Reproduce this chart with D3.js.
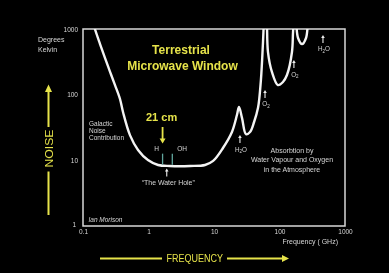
<!DOCTYPE html>
<html>
<head>
<meta charset="utf-8">
<script src="https://cdn.jsdelivr.net/npm/d3@7"></script>
<style>
  html, body { margin: 0; padding: 0; background: #000; overflow: hidden; }
  text { font-family: "Liberation Sans", Arial, sans-serif; }
</style>
</head>
<body>
<svg id="chart" width="389" height="273"></svg>
<script>
// Axis ticks
const freqTicks = [0.1, 1, 10, 100, 1000];        // GHz
const tempTicks = [1, 10, 100, 1000];             // K

// Sky noise temperature seen from the ground (galactic + atmospheric)
const noiseFreq = [0.132, 0.152, 0.182, 0.217, 0.258, 0.308, 0.367, 0.409, 0.523, 0.692,
                   0.98, 1.40, 2.13, 4.3, 7.3, 9.7, 13.7, 18.8, 22.4, 24.1,
                   26.8, 30.8, 35.5, 40.8, 47, 52, 56, 58, 61, 64,
                   66.7, 76.8, 94.8, 113, 130, 155, 161, 166, 172, 179,
                   192, 221, 254, 272, 282];
const noiseTemp = [1630, 1000, 590, 361, 225, 140, 86, 54, 24, 14.4,
                   10.1, 8.5, 8.2, 8.2, 8.5, 9.8, 15.4, 27, 49, 65,
                   44, 25, 27, 38, 63, 167, 634, 1370, 2320, 1370,
                   446, 221, 140, 156, 199, 446, 900, 1370, 1945, 1370,
                   729, 590, 729, 1370, 2320];

// Spectral lines in the water hole
const lineFreq = [1.64, 2.31];
const lineLabel = ["H", "OH"];
const waterHoleFreq = 1.9;
const floorTemp = 8.3;

// Atmospheric absorption lines marked with arrows
const absFreq = [24.9, 60.1, 166, 461];
const absTemp = [24.3, 118, 337, 811];
const absBase = ["H", "O", "O", "H"];
const absSub  = ["2", "2", "2", "2"];
const absTail = ["O", "", "", "O"];

const yellow = "#e6e34a";
const grey = "#d6d6d6";

const root = d3.select("#chart");
root.append("rect").attr("width", 389).attr("height", 273).attr("fill", "#000");

// Everything is drawn through a pass-through filter so text gets plain greyscale smoothing
const defs = root.append("defs");
defs.append("filter").attr("id", "flat")
  .attr("filterUnits", "userSpaceOnUse")
  .attr("x", 0).attr("y", 0).attr("width", 389).attr("height", 273)
  .append("feOffset").attr("dx", 0).attr("dy", 0);
const svg = root.append("g").attr("filter", "url(#flat)");

const x = d3.scaleLog().domain([0.1, 1000]).range([83, 345]);
const y = d3.scaleLog().domain([1, 1000]).range([226, 29]);

// Axes: labels only, frame drawn separately
const xAxis = svg.append("g")
  .attr("transform", `translate(0,${y(1)})`)
  .call(d3.axisBottom(x).tickValues(freqTicks).tickSize(0).tickPadding(3)
        .tickFormat(d => String(d)));
const yAxis = svg.append("g")
  .attr("transform", `translate(${x(0.1)},0)`)
  .call(d3.axisLeft(y).tickValues(tempTicks).tickSize(0).tickPadding(5)
        .tickFormat(d => String(d)));
[xAxis, yAxis].forEach(g => {
  g.select(".domain").remove();
  g.selectAll("text").attr("fill", grey).attr("font-size", 6.5)
    .attr("font-family", "Liberation Sans, Arial, sans-serif");
});
yAxis.selectAll(".tick").filter(d => d === 1).select("text").attr("dx", -2).attr("dy", "0.1em");

// Plot frame
svg.append("rect")
  .attr("x", x(0.1)).attr("y", y(1000))
  .attr("width", x(1000) - x(0.1)).attr("height", y(1) - y(1000))
  .attr("fill", "none").attr("stroke", "#d8d8d8").attr("stroke-width", 1.5);

defs.append("clipPath").attr("id", "plotClip")
  .append("rect")
  .attr("x", x(0.1)).attr("y", y(1000))
  .attr("width", x(1000) - x(0.1)).attr("height", y(1) - y(1000));

// Noise curve
const noise = noiseFreq.map((f, i) => ({ f, t: noiseTemp[i] }));
svg.append("path")
  .datum(noise)
  .attr("clip-path", "url(#plotClip)")
  .attr("fill", "none").attr("stroke", "#f4f4f4").attr("stroke-width", 2.4)
  .attr("stroke-linejoin", "round")
  .attr("d", d3.line().x(d => x(d.f)).y(d => y(d.t)).curve(d3.curveCatmullRom.alpha(0.5)));

// H and OH lines
lineFreq.forEach((f, i) => {
  svg.append("line")
    .attr("x1", x(f)).attr("x2", x(f))
    .attr("y1", y(floorTemp) - 12).attr("y2", y(floorTemp) - 1)
    .attr("stroke", "#5fa59d").attr("stroke-width", 1.3);
});
svg.append("text").attr("x", x(lineFreq[0]) - 6).attr("y", 150.5)
  .attr("text-anchor", "middle").attr("fill", grey).attr("font-size", 6.5).text(lineLabel[0]);
svg.append("text").attr("x", x(lineFreq[1]) + 5).attr("y", 150.5)
  .attr("fill", grey).attr("font-size", 6.5).text(lineLabel[1]);

// Arrow helper: vertical arrow, head at (ax, tipY)
function arrow(ax, tipY, tailY, color, width, head) {
  const dir = Math.sign(tailY - tipY);
  svg.append("line").attr("x1", ax).attr("x2", ax)
    .attr("y1", tailY).attr("y2", tipY + dir * head * 0.8)
    .attr("stroke", color).attr("stroke-width", width);
  svg.append("path")
    .attr("d", `M${ax},${tipY} L${ax - head * 0.6},${tipY + dir * head} L${ax + head * 0.6},${tipY + dir * head} Z`)
    .attr("fill", color);
}

// 21 cm marker
arrow(x(lineFreq[0]), 143.5, 127, yellow, 1.8, 5);
svg.append("text").attr("x", x(lineFreq[0]) - 1).attr("y", 120.5)
  .attr("text-anchor", "middle").attr("fill", yellow)
  .attr("font-size", 11).attr("font-weight", "bold").text("21 cm");

// Water hole marker
arrow(x(waterHoleFreq), 168.5, 176.5, "#eeeeee", 1.1, 3);
svg.append("text").attr("x", x(waterHoleFreq) + 1.5).attr("y", 185.3)
  .attr("text-anchor", "middle").attr("fill", grey).attr("font-size", 6.3)
  .attr("textLength", 53).attr("lengthAdjust", "spacingAndGlyphs")
  .text("\u201CThe Water Hole\u201D");

// Absorption line markers
absFreq.forEach((f, i) => {
  const ax = x(f), ty = y(absTemp[i]);
  arrow(ax, ty, ty + 8, "#eeeeee", 1.1, 3);
  const t = svg.append("text").attr("x", ax + 1).attr("y", ty + 16.5)
    .attr("text-anchor", "middle").attr("fill", grey).attr("font-size", 6.3);
  t.append("tspan").text(absBase[i]);
  t.append("tspan").attr("font-size", 4.5).attr("dy", 1.5).text(absSub[i]);
  if (absTail[i]) t.append("tspan").attr("dy", -1.5).text(absTail[i]);
});

// Title
const title = svg.append("text").attr("text-anchor", "middle").attr("fill", yellow)
  .attr("font-size", 12).attr("font-weight", "bold");
title.append("tspan").attr("x", 181).attr("y", 53.5).text("Terrestrial");
title.append("tspan").attr("x", 182.5).attr("y", 70).text("Microwave Window");

// Annotations
function block(lines, x0, y0, dy, anchor, size, italic) {
  const t = svg.append("text").attr("text-anchor", anchor).attr("fill", grey)
    .attr("font-size", size).attr("font-style", italic ? "italic" : "normal");
  lines.forEach((s, i) => t.append("tspan").attr("x", x0).attr("y", y0 + i * dy).text(s));
}
block(["Degrees", "Kelvin"], 38, 41.5, 10, "start", 7);
block(["Galactic", "Noise", "Contribution"], 89, 125.5, 7, "start", 6.5);
block(["Absorbtion by", "Water Vapour and Oxygen", "in the Atmosphere"], 292, 152.5, 9.5, "middle", 7);
block(["Ian Morison"], 88.5, 221.5, 0, "start", 6.5, true);
svg.append("text").attr("x", 338).attr("y", 244).attr("text-anchor", "end")
  .attr("fill", grey).attr("font-size", 7).text("Frequency ( GHz)");

// FREQUENCY axis banner
svg.append("line").attr("x1", 100).attr("x2", 162).attr("y1", 258.5).attr("y2", 258.5)
  .attr("stroke", yellow).attr("stroke-width", 2);
svg.append("text").attr("x", 166.5).attr("y", 262.2).attr("fill", yellow)
  .attr("font-size", 10).attr("textLength", 56.5).attr("lengthAdjust", "spacingAndGlyphs")
  .text("FREQUENCY");
svg.append("line").attr("x1", 227).attr("x2", 283).attr("y1", 258.5).attr("y2", 258.5)
  .attr("stroke", yellow).attr("stroke-width", 2);
svg.append("path").attr("d", "M289,258.5 L282,255 L282,262 Z").attr("fill", yellow);

// NOISE axis banner
svg.append("line").attr("x1", 48.5).attr("x2", 48.5).attr("y1", 215).attr("y2", 171.5)
  .attr("stroke", yellow).attr("stroke-width", 2);
svg.append("text").attr("transform", "translate(52.5,167.5) rotate(-90)")
  .attr("fill", yellow).attr("font-size", 10)
  .attr("textLength", 38).attr("lengthAdjust", "spacingAndGlyphs").text("NOISE");
svg.append("line").attr("x1", 48.5).attr("x2", 48.5).attr("y1", 127).attr("y2", 91)
  .attr("stroke", yellow).attr("stroke-width", 2);
svg.append("path").attr("d", "M48.5,84.5 L45,92 L52,92 Z").attr("fill", yellow);
</script>
</body>
</html>
